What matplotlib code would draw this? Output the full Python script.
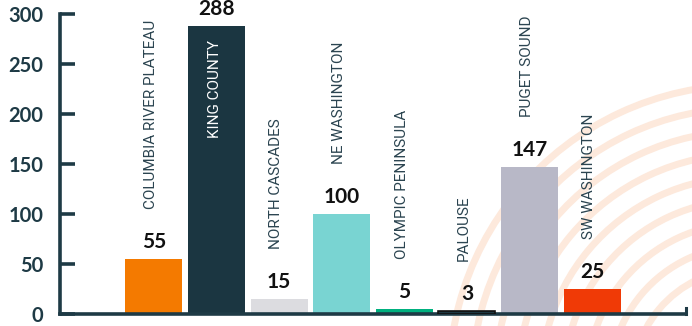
import matplotlib
matplotlib.use("Agg")
import matplotlib.pyplot as plt
from matplotlib.patches import Arc
from matplotlib.lines import Line2D
from matplotlib import font_manager

categories = ["COLUMBIA RIVER PLATEAU", "KING COUNTY", "NORTH CASCADES", "NE WASHINGTON",
              "OLYMPIC PENINSULA", "PALOUSE", "PUGET SOUND", "SW WASHINGTON"]
values = [55, 288, 15, 100, 5, 3, 147, 25]
colors = ["#f47a00", "#1b3641", "#dcdce0", "#79d4d2", "#00b07f", "#1c2b31", "#b8b8c7", "#f03a06"]
yticks = [0, 50, 100, 150, 200, 250, 300]

W, H, DPI = 692, 326, 100
fig = plt.figure(figsize=(W / DPI, H / DPI), dpi=DPI)
fig.patch.set_facecolor("white")

# faint watermark arcs
for r in range(112, 300, 23):
    arc = Arc((745, -55), 2 * r, 2 * r, theta1=90, theta2=190, transform=None,
              color="#fde9dc", lw=5, zorder=-5)
    fig.add_artist(arc)

ax = fig.add_axes([60 / W, 12 / H, (686 - 60) / W, 300 / H])
ax.patch.set_alpha(0)

names = {f.name for f in font_manager.fontManager.ttflist}
if "Liberation Sans Narrow" in names:
    cat_family, cat_size = "Liberation Sans Narrow", 13
elif "DejaVu Sans Condensed" in names:
    cat_family, cat_size = "DejaVu Sans Condensed", 10.5
else:
    cat_family, cat_size = "Roboto", 11
num_family = ["Lato", "DejaVu Sans"]

x = list(range(len(categories)))
ax.bar(x, values, width=0.91, color=colors, edgecolor=colors, linewidth=0, zorder=2)
# Palouse bar outline
ax.bar([5], [values[5]], width=0.91, color="none", edgecolor="#111111", linewidth=1.2, zorder=3)

ax.set_xlim(-1.5, 8.5)
ax.set_ylim(0, 300)
ax.set_yticks(yticks)
ax.set_xticks([])
for s in ["top", "right"]:
    ax.spines[s].set_visible(False)
for s in ["left", "bottom"]:
    ax.spines[s].set_color("#1e3a45")
    ax.spines[s].set_linewidth(2.6)
ax.tick_params(axis="y", direction="in", length=11, width=2.6, color="#1e3a45",
               labelcolor="#1e3a45", pad=12)
for lab in ax.get_yticklabels():
    lab.set_fontfamily(num_family)
    lab.set_fontweight("bold")
    lab.set_fontsize(14.5)

# right end tick on baseline
ax.add_line(Line2D([1, 1], [0, 0.02], transform=ax.transAxes, color="#1e3a45",
                   lw=2.2, clip_on=False))

for xi, v, name in zip(x, values, categories):
    ax.annotate(str(v), (xi, v), xytext=(0, 5), textcoords="offset points",
                ha="center", va="bottom", fontsize=15, fontweight="bold",
                family=num_family, color="#111111", zorder=4)
    if v > 250:
        ax.annotate(name, (xi, v), xytext=(-1, -10), textcoords="offset points",
                    rotation=90, ha="center", va="top", fontsize=cat_size,
                    family=cat_family, color="white", zorder=4)
    else:
        ax.annotate(name, (xi, v), xytext=(-2, 36), textcoords="offset points",
                    rotation=90, ha="center", va="bottom", fontsize=cat_size,
                    family=cat_family, color="#2b4450", zorder=4)

fig.savefig("out.png", dpi=DPI)
